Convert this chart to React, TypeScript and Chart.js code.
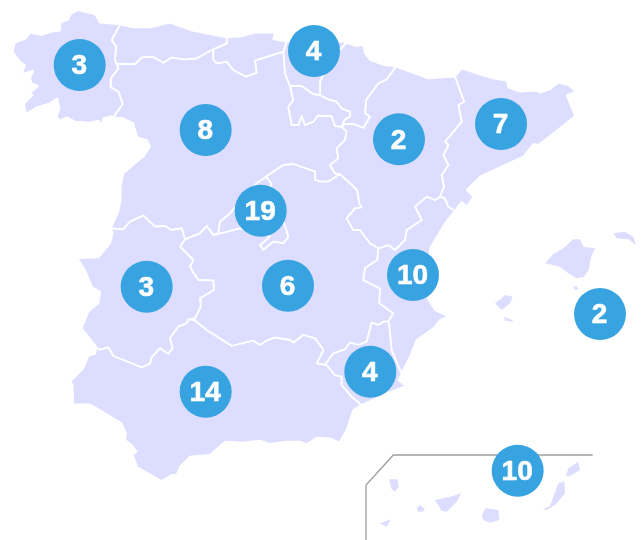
import React, { useEffect, useRef } from "react";
import { Chart, registerables } from "chart.js";

Chart.register(...registerables);

// Map outlines, in map units (x, y pairs)
const galicia = [360,73,300,68,285,42,250,35,232,30,210,45,205,58,182,68,180,92,155,95,125,105,90,98,78,115,45,128,38,155,60,185,75,195,65,222,100,212,90,235,95,250,115,258,90,278,98,285,72,312,78,342,110,322,150,310,172,295,178,325,170,350,180,362,200,352,225,365,270,368,295,362,305,375,310,355,335,348,340,352,368,312,355,275,332,262,332,235,355,205,345,180,348,140,335,120];
const asturias = [360,73,400,82,450,82,510,68,570,90,680,112,680,130,640,148,625,155,590,175,550,178,515,172,490,188,460,170,425,172,405,192,350,192,345,180,348,140,335,120];
const cantabria = [680,112,720,110,765,98,825,97,820,118,860,125,850,155,795,172,765,182,770,218,738,230,700,210,680,185,650,190,640,178,640,148,680,130];
const paisVasco = [1040,125,1015,155,980,200,960,245,960,285,940,282,905,258,870,258,855,220,850,155,860,125];
const navarra = [1040,128,1065,138,1090,135,1095,160,1110,180,1150,195,1188,198,1160,238,1135,250,1098,300,1095,340,1110,350,1090,383,1060,372,1035,372,1025,380,1035,358,1050,350,1050,335,1025,325,1010,305,985,298,960,285,960,245,980,200,1015,155];
const rioja = [870,258,905,258,940,282,960,285,985,298,1010,305,1025,325,1050,335,1050,350,1035,358,1025,380,1005,378,995,348,960,348,955,345,940,365,915,375,905,348,895,375,875,375,865,320,880,300];
const aragon = [1188,200,1230,215,1285,235,1365,230,1392,305,1375,315,1385,365,1335,425,1345,435,1330,465,1345,495,1325,525,1332,560,1320,590,1305,600,1280,590,1245,620,1265,660,1220,690,1215,720,1185,750,1165,735,1135,745,1110,730,1080,690,1060,690,1040,655,1065,625,1085,622,1078,610,1072,570,1020,522,1005,520,990,495,1015,475,1010,445,1035,420,1040,395,1025,380,1035,372,1060,372,1090,383,1110,350,1095,340,1098,300,1135,250,1160,238];
const catalunya = [1365,230,1385,205,1435,222,1480,235,1520,242,1525,262,1560,275,1610,272,1620,278,1650,268,1675,248,1705,255,1728,275,1700,285,1710,310,1725,348,1660,400,1615,435,1600,432,1570,470,1440,530,1400,570,1420,590,1400,620,1385,605,1365,632,1345,620,1335,595,1320,590,1332,560,1325,525,1345,495,1330,465,1345,435,1335,425,1385,365,1375,315,1392,305];
const valencia = [1365,632,1345,620,1335,595,1320,590,1305,600,1280,590,1245,620,1265,660,1220,690,1215,720,1185,750,1165,735,1135,745,1132,780,1095,805,1090,840,1140,865,1138,910,1180,940,1165,965,1168,975,1175,1050,1205,1120,1210,1110,1230,1070,1250,1020,1300,985,1320,960,1345,950,1305,930,1280,890,1290,745,1335,670];
const murcia = [1165,965,1150,965,1135,975,1115,968,1100,1025,1075,1035,1050,1028,1035,1048,1000,1060,975,1095,980,1095,1005,1125,1025,1130,1025,1155,1055,1190,1085,1215,1160,1180,1218,1158,1195,1140,1210,1115,1205,1120,1175,1050,1168,975];
const andalucia = [290,1042,300,1050,325,1042,340,1068,425,1102,450,1092,455,1072,480,1045,505,1062,518,1045,510,1015,535,980,560,970,565,958,582,960,620,990,695,1038,760,1022,780,1035,800,1022,825,1013,870,1020,880,1028,910,1005,945,1015,970,1050,950,1090,980,1095,1005,1125,1025,1130,1025,1155,1055,1190,1085,1215,1060,1230,1040,1290,1018,1328,990,1315,950,1313,920,1333,900,1325,860,1325,810,1332,780,1322,730,1328,675,1325,630,1365,570,1370,540,1400,530,1425,515,1425,485,1443,412,1402,398,1365,410,1355,395,1335,375,1320,378,1300,365,1270,290,1225,268,1213,220,1213,218,1155,210,1145,250,1105,265,1068,285,1062];
const extremadura = [332,685,370,688,390,665,430,647,465,680,495,678,515,690,545,685,555,718,540,740,580,780,570,800,575,810,595,840,640,842,642,870,600,895,602,920,585,955,565,958,560,970,535,980,510,1015,518,1045,505,1062,480,1045,455,1072,450,1092,425,1102,340,1068,325,1042,300,1050,290,1042,245,985,265,935,295,910,300,875,275,860,255,810,232,775,295,772,330,730,338,700];
const castillaMancha = [555,718,600,700,620,678,640,705,655,702,720,685,810,710,780,735,790,750,820,725,850,730,865,712,860,690,810,570,815,552,798,530,850,495,880,492,945,515,945,540,960,545,985,545,1020,522,1072,570,1078,610,1085,622,1065,625,1040,655,1060,690,1080,690,1110,730,1135,745,1132,780,1095,805,1090,840,1140,865,1138,910,1180,940,1165,965,1150,965,1135,975,1115,968,1100,1025,1075,1035,1050,1028,1035,1048,1000,1060,975,1095,950,1090,970,1050,945,1015,910,1005,880,1028,870,1020,825,1013,800,1022,780,1035,760,1022,695,1038,620,990,582,960,585,955,602,920,600,895,642,870,640,842,595,840,575,810,570,800,580,780,540,740];
const madrid = [655,702,660,665,685,645,770,550,798,530,815,552,810,570,860,690,865,712,850,730,820,725,790,750,780,735,810,710,720,685];
const castillaLeon = [340,352,368,312,355,275,332,262,332,235,355,205,350,192,405,192,425,172,460,170,490,188,515,172,550,178,590,175,625,155,640,148,640,178,650,190,680,185,700,210,738,230,770,218,765,182,795,172,850,155,855,220,870,258,880,300,865,320,875,375,895,375,905,348,915,375,940,365,955,345,960,348,995,348,1005,378,1025,380,1040,395,1035,420,1010,445,1015,475,990,495,1005,520,1020,522,985,545,960,545,945,540,945,515,880,492,850,495,798,530,770,550,685,645,660,665,655,702,640,705,620,678,600,700,555,718,545,685,515,690,495,678,465,680,430,647,390,665,370,688,332,685,355,635,362,600,362,560,370,520,430,470,450,440,440,420,412,412,400,370,370,355];
const mallorca = [1635,790,1660,762,1690,745,1720,718,1740,718,1750,740,1785,745,1772,775,1766,810,1750,832,1730,835,1705,820,1680,800];
const menorca = [1840,700,1875,695,1900,710,1908,735,1885,718,1850,715];
const cabrera = [1720,860,1730,858,1735,868,1725,870];
const ibiza = [1485,910,1505,895,1515,885,1538,890,1530,910,1505,930];
const formentera = [1512,950,1538,960,1538,965,1515,962];
const elHierro = [1140,1570,1172,1558,1160,1580];
const laPalma = [1167,1438,1192,1438,1197,1460,1185,1475,1175,1468];
const laGomera = [1250,1525,1260,1515,1275,1528,1268,1535,1255,1535];
const tenerife = [1305,1500,1360,1488,1385,1478,1370,1505,1340,1535,1325,1532];
const granCanaria = [1445,1545,1457,1525,1495,1530,1498,1560,1470,1568,1450,1560];
const fuerteventura = [1628,1528,1650,1518,1675,1450,1693,1445,1695,1480,1665,1515,1640,1530];
const lanzarote = [1698,1428,1705,1405,1735,1385,1740,1410,1710,1428];
const insetFrame = [1778,1365,1180,1365,1098,1455,1098,1620];

const regions = [galicia, asturias, cantabria, paisVasco, navarra, rioja, aragon, catalunya, valencia, murcia, andalucia, extremadura, castillaMancha, madrid, castillaLeon];
const islands = [mallorca, menorca, cabrera, ibiza, formentera, elHierro, laPalma, laGomera, tenerife, granCanaria, fuerteventura, lanzarote];

// Cluster markers
const markerX = [239, 617, 782, 942, 1197, 1503, 1239, 440, 864, 617, 1111, 1800, 1553];
const markerY = [195, 390, 632, 153, 418, 372, 825, 860, 857, 1175, 1115, 942, 1412];
const markerCounts = [3, 8, 19, 4, 2, 7, 10, 3, 6, 14, 4, 2, 10];

const LAND = "#DDDDFF";
const MARKER = "#37A3E0";

const toPoints = (flat: number[], close = true) => {
  const pts: { x: number; y: number }[] = [];
  for (let i = 0; i < flat.length; i += 2) pts.push({ x: flat[i], y: flat[i + 1] });
  if (close) pts.push({ ...pts[0] });
  return pts;
};

const labelPlugin = {
  id: "markerLabels",
  afterDatasetsDraw(chart: any) {
    const meta = chart.getDatasetMeta(0);
    const { ctx } = chart;
    ctx.save();
    ctx.fillStyle = "#FFFFFF";
    ctx.strokeStyle = "#FFFFFF";
    ctx.lineWidth = 0.6;
    ctx.font = 'bold 28px "Liberation Sans", Arial, sans-serif';
    ctx.textAlign = "center";
    ctx.textBaseline = "middle";
    meta.data.forEach((el: any, i: number) => {
      ctx.fillText(String(markerCounts[i]), el.x - 0.5, el.y + 1.5);
      ctx.strokeText(String(markerCounts[i]), el.x - 0.5, el.y + 1.5);
    });
    ctx.restore();
  },
};

export default function App() {
  const ref = useRef<HTMLCanvasElement | null>(null);
  useEffect(() => {
    if (!ref.current) return;
    const shape = (flat: number[], width: number) => ({
      type: "scatter" as const,
      data: toPoints(flat),
      showLine: true,
      fill: "shape",
      backgroundColor: LAND,
      borderColor: "#FFFFFF",
      borderWidth: width,
      borderJoinStyle: "round" as const,
      tension: 0,
      pointRadius: 0,
      pointHoverRadius: 0,
      clip: false,
    });
    const chart = new Chart(ref.current, {
      type: "scatter",
      plugins: [labelPlugin],
      data: {
        datasets: [
          {
            type: "bubble",
            label: "Clusters",
            data: markerX.map((x, i) => ({ x, y: markerY[i], r: 26 })),
            backgroundColor: MARKER,
            borderWidth: 0,
            hoverRadius: 0,
            clip: false,
          },
          {
            type: "scatter",
            data: toPoints(insetFrame, false),
            showLine: true,
            fill: false,
            borderColor: "#9E9E9E",
            borderWidth: 1.3,
            tension: 0,
            pointRadius: 0,
            clip: false,
          },
          ...regions.map((r) => shape(r, 1.8)),
          ...islands.map((r) => shape(r, 0)),
        ] as any,
      },
      options: {
        animation: false,
        responsive: false,
        events: [],
        layout: { padding: 0, autoPadding: false },
        plugins: { legend: { display: false }, tooltip: { enabled: false } },
        scales: {
          x: { type: "linear", min: 0, max: 1929, display: false },
          y: { type: "linear", min: 0, max: 1620, reverse: true, display: false },
        },
      },
    });
    return () => chart.destroy();
  }, []);
  return (
    <div style={{ position: "fixed", left: 0, top: 0, width: 643, height: 540, background: "#fff" }}>
      <canvas ref={ref} width={643} height={540} style={{ display: "block" }} />
    </div>
  );
}
